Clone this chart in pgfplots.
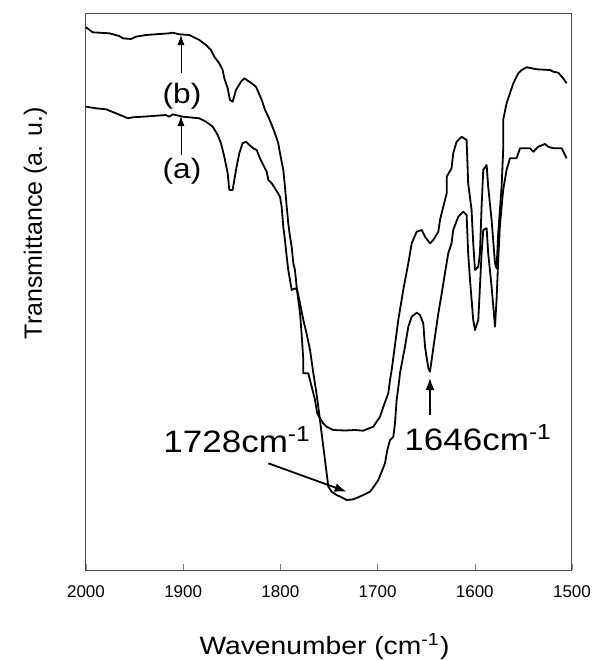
\documentclass[border=0pt]{standalone}
\usepackage{fontspec}
\setmainfont{Liberation Sans}
\usepackage{graphicx}
\usepackage{pgfplots}
\pgfplotsset{compat=1.18}
\usetikzlibrary{arrows.meta}

% the reference is set a little wide
\newcommand{\wide}[1]{\scalebox{1.13}[1]{#1}}

\begin{document}
\begin{tikzpicture}
\path[use as bounding box] (-43pt,-45.5pt) rectangle (253.5pt,285pt);
\begin{axis}[
  at={(0,0)}, anchor=south west,
  scale only axis, width=243pt, height=278.5pt,
  x dir=reverse,
  xmin=1500, xmax=2000, ymin=0, ymax=557,
  xtick={1500,1600,...,2000},
  ytick=\empty,
  xtick pos=bottom, tick align=inside,
  major tick length=3pt,
  /pgf/number format/assume math mode=true,
  /pgf/number format/set thousands separator={},
  xticklabel style={font=\fontsize{8.5}{10}\selectfont, yshift=-4.5pt},
  axis line style={line width=0.5pt, black!70},
  clip=false,
]
% (b) upper trace
\addplot[black, line width=0.9pt, line join=round] coordinates {
(2000,542.7) (1993.1,537.7) (1976.0,536.7) (1965.7,534) (1962.2,531.7) (1953.7,531)
(1948.6,533.3) (1938.3,535) (1914.3,536.7) (1910.8,537.3) (1904.0,535.7) (1893.7,535)
(1890.2,533.3) (1883.4,530) (1876.5,525) (1871.4,520) (1868.0,513.3) (1862.9,506.7)
(1859.4,500) (1857.7,491.7) (1854.2,481.7) (1851.9,470) (1849.1,468.3) (1845.7,480)
(1840.5,488.3) (1837.1,491.7) (1832.0,488.3) (1825.1,483.3) (1819.2,470) (1815.8,460)
(1812.4,453.3) (1808.9,445) (1805.6,436.7) (1802.2,426.7) (1800.4,416.7) (1798.7,408.3)
(1797.0,400) (1795.3,383.3) (1793.5,363.3) (1791.9,346.7) (1790.1,333.3) (1788.4,323.3)
(1786.7,306.7) (1785.0,300) (1783.3,283.3) (1781.6,270) (1779.8,256.7) (1778.2,236.7)
(1776.4,210) (1776.4,196.7) (1771.3,196.7) (1767.8,183.3) (1764.4,170) (1762.1,156.7)
(1759.3,151.7) (1755.9,146.7) (1752.4,143.3) (1745.6,140) (1733.5,139.5) (1723.3,140)
(1714.7,139.3) (1711.2,140.7) (1704.4,143.3) (1697.5,153.3) (1694.1,163.3) (1689.0,176.7)
(1687.2,190) (1685.5,200) (1678.7,250) (1673.6,280) (1668.4,306.7) (1664.9,326.7)
(1659.8,338.3) (1654.6,340) (1651.2,333.3) (1646.1,326.7) (1642.7,330) (1637.5,338.3)
(1635.8,350) (1632.4,363.3) (1628.9,376.7) (1628.9,393.3) (1623.9,401.7) (1622.2,416.7)
(1618.7,428.3) (1613.5,433.3) (1608.4,430) (1606.8,386.7) (1603.3,360) (1601.6,326.7)
(1599.8,300) (1596.4,303.3) (1594.7,316.7) (1593.0,363.3) (1591.3,400) (1587.8,405)
(1586.2,383.3) (1582.7,350) (1579.2,306.7) (1577.6,301.7) (1575.9,336.7) (1572.4,383.3)
(1570.8,420) (1570.8,450) (1567.3,466.7) (1563.8,476.7) (1560.4,486.7) (1555.2,496.7)
(1551.7,500) (1546.6,502.7) (1541.4,501.7) (1536.3,500.7) (1522.6,500) (1519.2,498.3)
(1514.1,497.3) (1509.0,491.7) (1505.5,486.7)
};
% (a) lower trace
\addplot[black, line width=0.9pt, line join=round] coordinates {
(2000,463.3) (1989.7,461.7) (1979.4,460.7) (1969.1,456.7) (1960.6,453.3) (1957.1,451.7)
(1952.0,452.7) (1941.7,453.3) (1931.4,454) (1917.7,455) (1914.3,453.3) (1910.8,455.7)
(1900.5,453.3) (1893.7,452.7) (1883.4,451.7) (1876.5,448.3) (1869.6,443.3) (1864.5,435)
(1861.1,426.7) (1857.7,413.3) (1854.2,396.7) (1852.6,380) (1849.1,380) (1845.7,400)
(1842.3,416.7) (1838.9,426.7) (1835.4,428.3) (1832.0,425) (1827.9,421.7) (1824.4,420)
(1821.0,411.7) (1817.6,405) (1814.1,398.3) (1812.4,390) (1808.9,386.7) (1805.6,381.7)
(1800.4,373.3) (1798.7,363.3) (1797.0,343.3) (1795.3,330) (1793.5,313.3) (1791.9,300)
(1790.1,290) (1788.4,280) (1785.0,281.7) (1782.7,280) (1779.8,266.7) (1776.4,250)
(1773.1,236.7) (1769.5,220) (1766.1,196.7) (1763.4,180) (1761.0,163.3) (1757.6,136.7)
(1754.1,110) (1750.7,83.3) (1747.3,78.3) (1742.2,75) (1737.0,72.7) (1731.8,70)
(1725.0,70.7) (1719.9,72.7) (1714.7,75) (1707.8,78.3) (1702.7,85) (1699.3,90)
(1695.8,98.3) (1692.4,106.7) (1690.0,120) (1687.2,130) (1683.8,133.3) (1682.1,146.7)
(1680.4,170) (1677.7,190) (1677.0,196.7) (1671.8,223.3) (1668.4,243.3) (1664.9,253.3)
(1659.8,257.3) (1656.4,255) (1653.0,246.7) (1651.2,223.3) (1647.8,201.7) (1646.1,198.3)
(1644.4,210) (1641.0,233.3) (1637.5,256.7) (1634.0,276.7) (1630.7,296.7) (1627.3,316.7)
(1623.9,326.7) (1622.2,340) (1617.0,353.3) (1611.9,358.3) (1608.4,355) (1606.8,316.7)
(1604.9,290) (1601.6,250) (1599.8,240) (1596.4,250) (1594.7,283.3) (1593.0,316.7)
(1591.3,340) (1587.8,341.7) (1586.2,316.7) (1582.7,283.3) (1579.2,243.3) (1577.6,270)
(1575.9,310) (1574.1,345) (1570.8,380) (1567.3,400) (1563.8,411.7) (1557.0,411.7)
(1553.5,421.7) (1543.2,421.7) (1539.8,418.3) (1534.7,423.3) (1527.8,426) (1524.4,423.3)
(1519.2,421.7) (1510.6,421.7) (1505.5,411.7)
};
% markers for the two traces
\draw[-{Latex[length=5pt,width=3.5pt]}, line width=0.4pt] (axis cs:1902.3,497) -- (axis cs:1902.3,535);
\node[inner sep=0pt, font=\fontsize{14}{16}\selectfont] at (axis cs:1901.2,474) {\wide{(b)}};
\draw[-{Latex[length=5pt,width=3.5pt]}, line width=0.4pt] (axis cs:1902.3,415) -- (axis cs:1902.3,454);
\node[inner sep=0pt, font=\fontsize{14}{16}\selectfont] at (axis cs:1901.2,399) {\wide{(a)}};
% band labels
\draw[-{Latex[length=6pt,width=4.5pt]}, line width=0.9pt] (axis cs:1812.4,106.7) -- (axis cs:1731.8,78.3);
\draw[-{Latex[length=6pt,width=4.5pt]}, line width=0.9pt] (axis cs:1646.1,155) -- (axis cs:1646.1,192);
\node[anchor=base west, inner sep=0pt, font=\fontsize{15.5}{18}\selectfont] at (axis cs:1920.8,118) {\wide{1728cm\textsuperscript{-1}}};
\node[anchor=base west, inner sep=0pt, font=\fontsize{15.5}{18}\selectfont] at (axis cs:1672.8,120) {\wide{1646cm\textsuperscript{-1}}};
% axis titles
\node[rotate=90, anchor=base, inner sep=0pt, font=\fontsize{12.5}{15}\selectfont] at (axis cs:2045.3,347) {Transmittance (a. u.)};
\node[anchor=base, inner sep=0pt, font=\fontsize{12.5}{15}\selectfont] at (axis cs:1754.6,-84) {\wide{Wavenumber (cm\textsuperscript{-1})}};
\end{axis}
\end{tikzpicture}
\end{document}
